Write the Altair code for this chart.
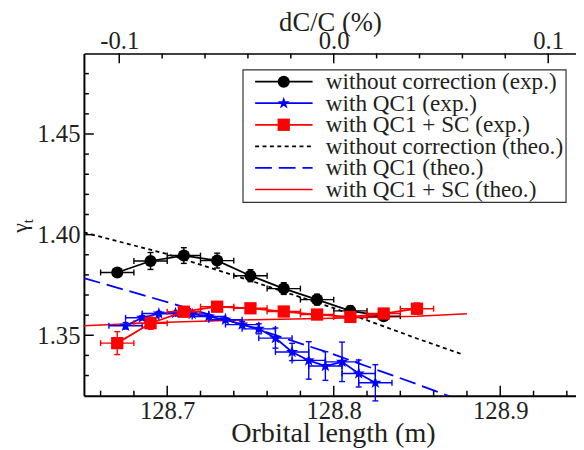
import altair as alt
import pandas as pd

FONT = "Liberation Serif"
TXT = "#231f20"

# ---------------- data ----------------
# experimental: without correction
L_noc = [128.67, 128.69, 128.71, 128.73, 128.75, 128.77, 128.79, 128.81, 128.83]
g_noc = [1.3812, 1.3869, 1.3896, 1.3871, 1.3796, 1.3732, 1.3677, 1.3621, 1.3595]
ey_noc = [0.002, 0.0042, 0.0039, 0.0037, 0.003, 0.0029, 0.0027, 0.0025, 0.002]
ex_noc = [0.01] * 9

# experimental: with QC1
L_qc1 = [128.675, 128.685, 128.695, 128.705, 128.715, 128.725, 128.735, 128.745,
         128.755, 128.765, 128.775, 128.785, 128.795, 128.805, 128.815, 128.825]
g_qc1 = [1.3547, 1.3587, 1.3608, 1.3610, 1.3606, 1.3593, 1.3577, 1.3553,
         1.3532, 1.3486, 1.3417, 1.3375, 1.3347, 1.3368, 1.3310, 1.3264]
ey_qc1 = [0.0016, 0.001, 0.001, 0.001, 0.001, 0.001, 0.001, 0.0015,
          0.0025, 0.005, 0.0043, 0.0093, 0.0071, 0.0098, 0.0067, 0.009]
ex_qc1 = [0.01] * 16

# experimental: with QC1 + SC
L_sc = [128.67, 128.69, 128.71, 128.73, 128.75, 128.77, 128.79, 128.81, 128.83, 128.85]
g_sc = [1.3461, 1.3560, 1.3617, 1.3642, 1.3634, 1.3618, 1.3603, 1.3591, 1.3608, 1.3632]
ey_sc = [0.0057, 0.003, 0.002, 0.002, 0.002, 0.002, 0.002, 0.002, 0.002, 0.0028]
ex_sc = [0.01] * 10

# theory curves
L_th_noc = [128.65, 128.70, 128.75, 128.80, 128.85, 128.878]
g_th_noc = [1.4011, 1.3903, 1.3771, 1.3635, 1.3484, 1.3403]
L_th_qc1 = [128.65, 128.70, 128.75, 128.80, 128.85, 128.875]
g_th_qc1 = [1.3784, 1.3665, 1.3541, 1.3405, 1.3257, 1.3180]
L_th_sc = [128.65, 128.70, 128.75, 128.80, 128.85, 128.88]
g_th_sc = [1.3547, 1.3565, 1.3577, 1.3585, 1.3595, 1.3607]

# axes
x_domain = [128.65, 128.9455]
y_domain = [1.32, 1.49]
L0 = 128.8
x_major = [128.7, 128.8, 128.9]
x_minor = [128.66, 128.68, 128.72, 128.74, 128.76, 128.78, 128.82, 128.84,
           128.86, 128.88, 128.92, 128.94]
y_major = [1.35, 1.40, 1.45]
y_minor = [1.33, 1.34, 1.36, 1.37, 1.38, 1.39, 1.41, 1.42, 1.43, 1.44,
           1.46, 1.47, 1.48]
t_major = [-0.1, 0.0, 0.1]
t_minor = [-0.08, -0.06, -0.04, -0.02, 0.02, 0.04, 0.06, 0.08]

legend_labels = [
    "without correction (exp.)",
    "with QC1 (exp.)",
    "with QC1 + SC (exp.)",
    "without correction (theo.)",
    "with QC1 (theo.)",
    "with QC1 + SC (theo.)",
]

# ---------------- chart ----------------
W, H = 499, 347
top_domain = [(v - L0) / L0 * 100 for v in x_domain]

STAR = ("M0,-1L0.2351,-0.3236L0.9511,-0.309L0.3804,0.1236L0.5878,0.809L0,0.4"
        "L-0.5878,0.809L-0.3804,0.1236L-0.9511,-0.309L-0.2351,-0.3236Z")
BLUE = "#0000ff"
RED = "#ff0000"

xscale = alt.Scale(domain=x_domain, nice=False, zero=False)
yscale = alt.Scale(domain=y_domain, nice=False, zero=False)
tscale = alt.Scale(domain=top_domain, nice=False, zero=False)

xaxis = alt.Axis(values=x_major, format=".1f", title="Orbital length (m)",
                 ticks=False, tickSize=0, grid=False, domainColor="black",
                 domainWidth=2, labelFont=FONT, labelFontSize=25,
                 labelColor=TXT, labelBaseline="alphabetic", labelPadding=23.5,
                 titleFont=FONT, titleFontSize=28.5, titleFontWeight="normal",
                 titleColor=TXT, titleBaseline="alphabetic", titleY=46,
                 titleX=252.5, titleAlign="center", titleAnchor="start")
yaxis = alt.Axis(values=y_major, format=".2f", title=None, ticks=False,
                 tickSize=0, grid=False, domainColor="black", domainWidth=2,
                 labelFont=FONT, labelFontSize=25, labelColor=TXT,
                 labelPadding=4)
taxis = alt.Axis(orient="top", values=t_major,
                 labelExpr="(datum.value < 0 ? '-' : '') + format(abs(datum.value), '.1f')",
                 title="dC/C (%)", ticks=False, tickSize=0, grid=False,
                 domainColor="black", domainWidth=1.5, labelFont=FONT,
                 labelFontSize=25, labelColor=TXT, labelBaseline="alphabetic",
                 labelPadding=5, titleFont=FONT, titleFontSize=27,
                 titleFontWeight="normal", titleColor=TXT,
                 titleBaseline="alphabetic", titleY=-23.5)


def X(f):
    return alt.X(f, type="quantitative", scale=xscale, axis=xaxis)


def Y(f):
    return alt.Y(f, type="quantitative", scale=yscale, axis=yaxis)


def XT(f):
    return alt.X(f, type="quantitative", scale=tscale, axis=taxis)


def theory(L, g, color, width, dash=None):
    df = pd.DataFrame({"L": L, "g": g})
    kw = dict(color=color, strokeWidth=width, clip=True)
    if dash:
        kw["strokeDash"] = dash
    return alt.Chart(df).mark_line(**kw).encode(x=X("L"), y=Y("g"))


def exp_series(L, g, ey, ex, color, shape, size):
    df = pd.DataFrame({"L": L, "g": g, "ey": ey, "ex": ex})
    df["xlo"] = df.L - df.ex
    df["xhi"] = df.L + df.ex
    df["ylo"] = df.g - df.ey
    df["yhi"] = df.g + df.ey
    base = alt.Chart(df)
    line = base.mark_line(color=color, strokeWidth=1.8).encode(x=X("L"), y=Y("g"))
    hbar = base.mark_rule(color=color, strokeWidth=1.4).encode(
        x=X("xlo"), x2="xhi", y=Y("g"))
    vbar = base.mark_rule(color=color, strokeWidth=1.4).encode(
        x=X("L"), y=Y("ylo"), y2="yhi")
    capx = pd.DataFrame({"cx": list(df.xlo) + list(df.xhi), "cy": list(df.g) * 2})
    capy = pd.DataFrame({"cx": list(df.L) * 2, "cy": list(df.ylo) + list(df.yhi)})
    vcap = alt.Chart(capx).mark_tick(orient="vertical", color=color, size=6,
                                     thickness=1.4, opacity=1).encode(
        x=X("cx"), y=Y("cy"))
    hcap = alt.Chart(capy).mark_tick(orient="horizontal", color=color, size=6,
                                     thickness=1.4, opacity=1).encode(
        x=X("cx"), y=Y("cy"))
    pts = base.mark_point(shape=shape, filled=True, size=size, color=color,
                          opacity=1, strokeWidth=0).encode(x=X("L"), y=Y("g"))
    return [line, hbar, vbar, vcap, hcap, pts]


def vtick(values, length, enc_x, pos):
    df = pd.DataFrame({"v": values})
    if pos == "bottom":
        y0, y1 = H, H - length
    else:
        y0, y1 = 0, length
    return alt.Chart(df).mark_rule(color="black", strokeWidth=1.5).encode(
        x=enc_x("v"), y=alt.value(y0), y2=alt.value(y1))


def htick(values, length):
    df = pd.DataFrame({"v": values})
    return alt.Chart(df).mark_rule(color="black", strokeWidth=1.5).encode(
        y=Y("v"), x=alt.value(0), x2=alt.value(length))


one = pd.DataFrame({"k": [0]})


def legend_layers():
    lay = []
    lay.append(alt.Chart(one).mark_rect(fill="white", stroke="#333333",
                                        strokeWidth=1.2).encode(
        x=alt.value(161.3), x2=alt.value(488.9), y=alt.value(16.6), y2=alt.value(151)))
    rows = [28.6 + 21.85 * i for i in range(6)]
    styles = [("black", None, 1.8), (BLUE, None, 1.8), (RED, None, 1.8),
              ("black", [4, 3.5], 1.8), (BLUE, [17, 7], 1.6), (RED, None, 1.5)]
    for r, (c, d, w) in zip(rows, styles):
        kw = dict(color=c, strokeWidth=w)
        if d:
            kw["strokeDash"] = d
        lay.append(alt.Chart(one).mark_rule(**kw).encode(
            x=alt.value(173.6), x2=alt.value(231.9), y=alt.value(r)))
    marks = [("black", "circle", 150), (BLUE, STAR, 170), (RED, "square", 155)]
    for r, (c, s, sz) in zip(rows[:3], marks):
        lay.append(alt.Chart(one).mark_point(shape=s, filled=True, size=sz,
                                             color=c, opacity=1, strokeWidth=0).encode(
            x=alt.value(202.6), y=alt.value(r)))
    for r, lab in zip(rows, legend_labels):
        lay.append(alt.Chart(one).mark_text(align="left", baseline="middle",
                                            font=FONT, fontSize=23.5, color=TXT).encode(
            x=alt.value(245.3), y=alt.value(r + 0.5), text=alt.value(lab)))
    return lay


layers = [
    theory(L_th_noc, g_th_noc, "black", 1.8, [4, 3.5]),
    theory(L_th_qc1, g_th_qc1, BLUE, 1.8, [17, 7]),
    theory(L_th_sc, g_th_sc, RED, 1.5),
]
layers += exp_series(L_noc, g_noc, ey_noc, ex_noc, "black", "circle", 150)
layers += exp_series(L_qc1, g_qc1, ey_qc1, ex_qc1, BLUE, STAR, 170)
layers += exp_series(L_sc, g_sc, ey_sc, ex_sc, RED, "square", 155)
layers += [
    vtick(x_major, 10, X, "bottom"),
    vtick(x_minor, 5, X, "bottom"),
    htick(y_major, 10),
    htick(y_minor, 5),
]
# y-axis title  (gamma with subscript t)
layers.append(alt.Chart(one).mark_text(angle=270, font=FONT, fontSize=22, color=TXT,
                                       align="center", baseline="middle").encode(
    x=alt.value(-65), y=alt.value(177), text=alt.value("γ")))
layers.append(alt.Chart(one).mark_text(angle=270, font=FONT, fontSize=15, color=TXT,
                                       align="center", baseline="middle").encode(
    x=alt.value(-56.5), y=alt.value(170), text=alt.value("t")))
layers += legend_layers()

main = alt.layer(*layers)
top = alt.layer(vtick(t_major, 10, XT, "top"), vtick(t_minor, 5, XT, "top"))

chart = alt.layer(main, top).resolve_scale(x="independent").properties(
    width=W, height=H,
    autosize=alt.AutoSizeParams(type="none"),
    padding={"left": 77, "top": 43, "right": 0, "bottom": 52},
).configure_view(stroke=None)

chart.save("out.html", embed_options={"renderer": "svg", "actions": False})
